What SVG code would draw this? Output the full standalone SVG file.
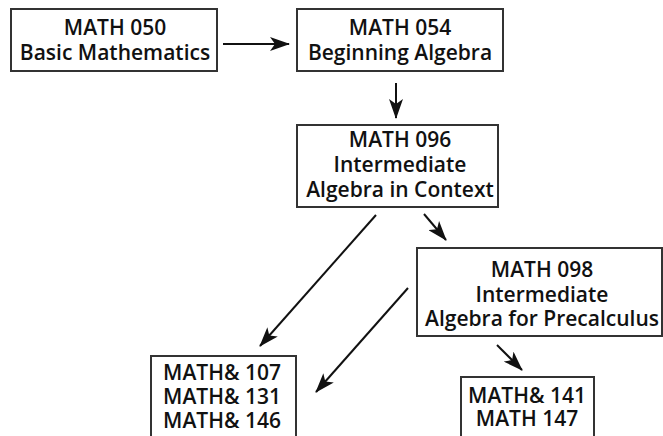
<svg xmlns="http://www.w3.org/2000/svg" width="663" height="436" viewBox="0 0 663 436">
<defs>
<style>
.box{fill:#fff;stroke:#333;stroke-width:2}
.t{font-family:"Open Sans","Liberation Sans",sans-serif;font-weight:600;font-size:21px;fill:#111;text-anchor:middle}
.c{stroke:#111;stroke-width:2;fill:none;marker-end:url(#ah)}
</style>
<marker id="ah" markerUnits="userSpaceOnUse" viewBox="0 0 20 14" refX="19" refY="7" markerWidth="20" markerHeight="14" orient="auto">
<path d="M0,0 L20,7 L0,14 L5,7 z" fill="#111"/>
</marker>
</defs>
<rect width="663" height="436" fill="#fff"/>
<g id="connectors">
<line class="c" x1="223" y1="44" x2="289" y2="44"/>
<line class="c" x1="396" y1="83" x2="396" y2="118"/>
<line class="c" x1="424" y1="214" x2="446" y2="240"/>
<line class="c" x1="376" y1="215" x2="260" y2="346"/>
<line class="c" x1="408" y1="288" x2="316" y2="392"/>
<line class="c" x1="497" y1="345" x2="522" y2="370"/>
</g>
<g id="math050">
<rect class="box" x="11" y="9" width="206" height="62"/>
<text class="t" x="115" y="35">MATH 050</text>
<text class="t" x="115" y="60">Basic Mathematics</text>
</g>
<g id="math054">
<rect class="box" x="297" y="9" width="206" height="62"/>
<text class="t" x="400" y="35">MATH 054</text>
<text class="t" x="400" y="60">Beginning Algebra</text>
</g>
<g id="math096">
<rect class="box" x="297" y="125" width="201" height="82"/>
<text class="t" x="400" y="147">MATH 096</text>
<text class="t" x="400" y="172">Intermediate</text>
<text class="t" x="400" y="197">Algebra in Context</text>
</g>
<g id="math098">
<rect class="box" x="417" y="248" width="245" height="88"/>
<text class="t" x="542" y="277">MATH 098</text>
<text class="t" x="542" y="302">Intermediate</text>
<text class="t" x="542" y="326">Algebra for Precalculus</text>
</g>
<g id="math107">
<rect class="box" x="151" y="356" width="145" height="90"/>
<text class="t" x="222" y="380">MATH&amp; 107</text>
<text class="t" x="222" y="404">MATH&amp; 131</text>
<text class="t" x="222" y="428">MATH&amp; 146</text>
</g>
<g id="math141">
<rect class="box" x="461" y="377" width="133" height="70"/>
<text class="t" x="527" y="403">MATH&amp; 141</text>
<text class="t" x="527" y="426">MATH 147</text>
</g>
</svg>
